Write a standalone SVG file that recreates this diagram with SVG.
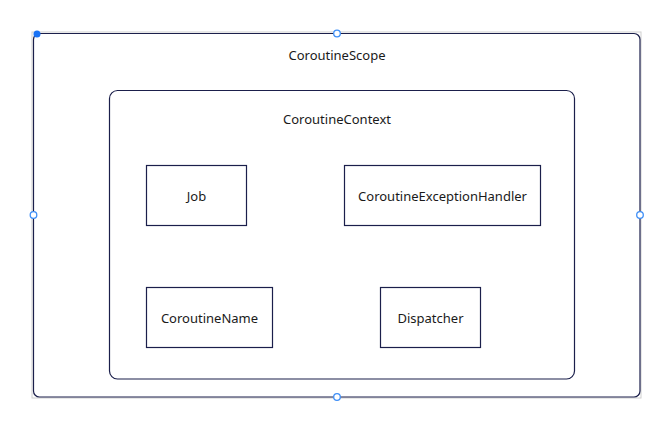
<svg xmlns="http://www.w3.org/2000/svg" width="671" height="430" viewBox="0 0 671 430">
<style>
.box{fill:#fff;stroke:#1b1f4b;stroke-width:1.2}
.t{font-family:"Noto Sans","Open Sans",sans-serif;font-size:13px;fill:#1a1a1a;text-anchor:middle;dominant-baseline:central}
.h{fill:#fff;stroke:#3d8ef7;stroke-width:1.3}
</style>
<rect width="671" height="430" fill="#fff"/>
<g id="scope">
<rect x="32" y="32" width="609" height="366" fill="none" stroke="#d0d0d0" stroke-width="1"/>
<rect class="box" x="33.5" y="33.5" width="606.5" height="363.5" rx="6"/>
<text class="t" x="337" y="55">CoroutineScope</text>
</g>
<g id="context">
<rect class="box" x="109.5" y="90.5" width="465" height="288.5" rx="8"/>
<text class="t" x="337" y="119">CoroutineContext</text>
</g>
<g id="job">
<rect class="box" x="146.5" y="165.5" width="100" height="60"/>
<text class="t" x="196.5" y="196">Job</text>
</g>
<g id="handler">
<rect class="box" x="344.5" y="165.5" width="196" height="60"/>
<text class="t" x="442.5" y="196">CoroutineExceptionHandler</text>
</g>
<g id="name">
<rect class="box" x="146.5" y="287.5" width="126" height="60"/>
<text class="t" x="209.5" y="318">CoroutineName</text>
</g>
<g id="dispatcher">
<rect class="box" x="380.5" y="287.5" width="100" height="60"/>
<text class="t" x="430.5" y="318">Dispatcher</text>
</g>
<g id="connectors"></g>
<g id="handles">
<circle cx="37" cy="34" r="3.5" fill="#1a73f5"/>
<circle class="h" cx="337" cy="33.5" r="3.3"/>
<circle class="h" cx="33.5" cy="215" r="3.3"/>
<circle class="h" cx="640" cy="215" r="3.3"/>
<circle class="h" cx="337" cy="397" r="3.3"/>
</g>
</svg>
